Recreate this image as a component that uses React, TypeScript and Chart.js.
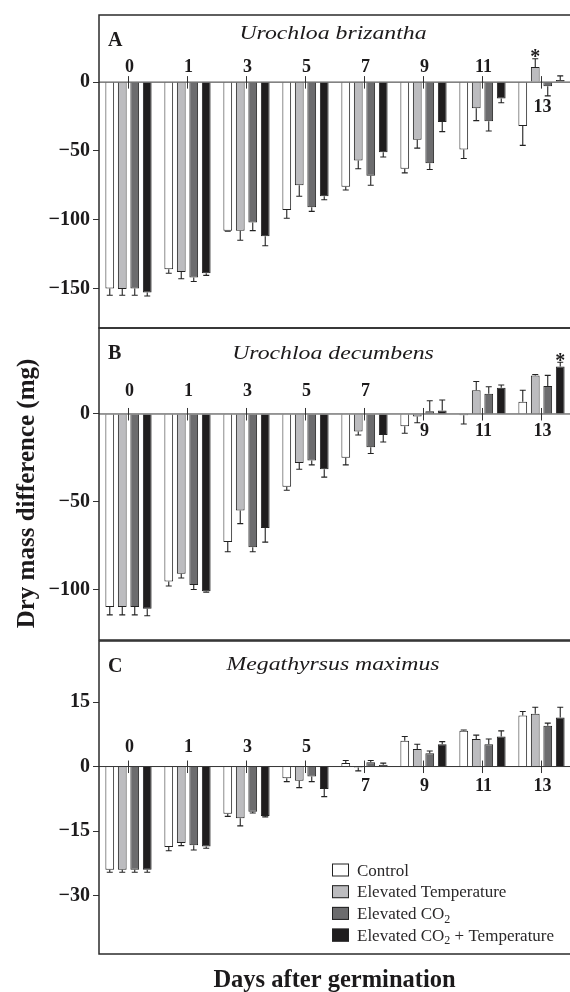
import React, { useEffect, useRef } from 'react';
import { Chart, registerables } from 'chart.js';

Chart.register(...registerables);

// ---------- data ----------
const days = ['0', '1', '3', '5', '7', '9', '11', '13'];
const seriesNames = ['Control', 'Elevated Temperature', 'Elevated CO₂', 'Elevated CO₂ + Temperature'];

// Panel A – Urochloa brizantha
const aControl = [-150, -136, -108, -93, -76, -63, -49, -32];
const aControlErr = [5, 3, 0.5, 6, 2.5, 3, 6.5, 14];
const aTemp = [-150.5, -138, -108, -75, -57, -42, -19, 11];
const aTempErr = [4.5, 5, 7, 8, 6, 6, 9, 6];
const aCO2 = [-150, -142, -102, -91, -68, -59, -28.5, -3];
const aCO2Err = [5, 3, 6, 3, 7, 4.5, 7, 7];
const aBoth = [-153, -139, -112, -83, -51, -29, -12, 1.5];
const aBothErr = [2.5, 1.5, 7, 2.5, 3.5, 7, 3, 3];
const aTicks = [-150, -100, -50, 0];
const aStars = [[7, 1]];

// Panel B – Urochloa decumbens
const bControl = [-110, -95.5, -73, -41.5, -25, -7, -0.7, 7];
const bControlErr = [4.5, 2.5, 5.5, 2, 4, 4, 5, 6.5];
const bTemp = [-110, -91, -55, -28, -10, -1.5, 13.5, 22];
const bTempErr = [4.5, 2.5, 7.5, 3.5, 2, 3.5, 5, 0.5];
const bCO2 = [-110, -97.5, -76, -26.5, -19, 1.5, 11.5, 16];
const bCO2Err = [4.5, 2.5, 2.5, 2.5, 3.5, 6, 4, 6];
const bBoth = [-111, -101, -65, -31.5, -12, 2, 15, 27];
const bBothErr = [4, 0.5, 8, 4.5, 4, 6, 1.5, 2.5];
const bTicks = [-100, -50, 0];
const bStars = [[7, 3]];

// Panel C – Megathyrsus maximus
const cControl = [-24, -18.7, -11, -2.7, 0.8, 6, 8.3, 11.9];
const cControlErr = [0.6, 0.9, 0.6, 0.8, 0.6, 1, 0.2, 0.9];
const cTemp = [-24, -17.8, -12, -3.3, -0.2, 4.1, 6.4, 12.3];
const cTempErr = [0.6, 0.6, 1.8, 1.6, 0.8, 1.1, 0.9, 1.5];
const cCO2 = [-24, -18.3, -10.5, -2.3, 1, 3.1, 5.2, 9.5];
const cCO2Err = [0.6, 1.1, 0.3, 1.2, 0.4, 0.5, 1.2, 0.6];
const cBoth = [-24, -18.6, -11.5, -5.2, 0.4, 5.2, 7, 11.4];
const cBothErr = [0.6, 0.4, 0.2, 1.8, 0.4, 0.6, 1.3, 2.4];
const cTicks = [-30, -15, 0, 15];
const cStars: number[][] = [];

// ---------- style ----------
const SERIF = '"Liberation Serif", "Times New Roman", serif';
const INK = '#1c1a1b';
const fills = ['#ffffff', '#bcbcbf', '#6c6c6e', '#1f1d1e'];

type PanelCfg = {
  letter: string;
  title: string;
  values: number[][];
  errors: number[][];
  ticks: number[];
  stars: number[][];
  min: number;
  max: number;
  canvasTop: number;
  canvasH: number;
  padTop: number;
  padBottom: number;
  titleDy: number;
  labelAbove: number;
  labelBelow: number;
  legend?: boolean;
  yTitle?: boolean;
  xTitle?: boolean;
};

const panels: PanelCfg[] = [
  {
    letter: 'A', title: 'Urochloa brizantha',
    values: [aControl, aTemp, aCO2, aBoth], errors: [aControlErr, aTempErr, aCO2Err, aBothErr],
    ticks: aTicks, stars: aStars, min: -178.8, max: 48.8,
    canvasTop: 0, canvasH: 345, padTop: 14, padBottom: 17, titleDy: 24,
    labelAbove: -14.6, labelBelow: 25.4,
  },
  {
    letter: 'B', title: 'Urochloa decumbens',
    values: [bControl, bTemp, bCO2, bBoth], errors: [bControlErr, bTempErr, bCO2Err, bBothErr],
    ticks: bTicks, stars: bStars, min: -128.8, max: 49,
    canvasTop: 300, canvasH: 355, padTop: 28, padBottom: 14, titleDy: 31,
    labelAbove: -22.6, labelBelow: 17.4, yTitle: true,
  },
  {
    letter: 'C', title: 'Megathyrsus maximus',
    values: [cControl, cTemp, cCO2, cBoth], errors: [cControlErr, cTempErr, cCO2Err, cBothErr],
    ticks: cTicks, stars: cStars, min: -43.6, max: 29.2,
    canvasTop: 620, canvasH: 372, padTop: 21, padBottom: 38, titleDy: 29,
    labelAbove: -19.4, labelBelow: 20, legend: true, xTitle: true,
  },
];

function textScaled(ctx: CanvasRenderingContext2D, text: string, x: number, y: number, font: string, align: CanvasTextAlign, sx = 1) {
  ctx.save();
  ctx.translate(x, y);
  ctx.scale(sx, 1);
  ctx.font = font;
  ctx.textAlign = align;
  ctx.textBaseline = 'alphabetic';
  ctx.fillStyle = INK;
  ctx.fillText(text, 0, 0);
  ctx.restore();
}

function drawRich(ctx: CanvasRenderingContext2D, text: string, x: number, y: number, size: number) {
  const parts = text.split('₂');
  let cx = x;
  ctx.textAlign = 'left';
  ctx.textBaseline = 'alphabetic';
  ctx.fillStyle = '#2a2829';
  parts.forEach((p, i) => {
    ctx.font = `${size}px ${SERIF}`;
    ctx.fillText(p, cx, y);
    cx += ctx.measureText(p).width;
    if (i < parts.length - 1) {
      ctx.font = `${Math.round(size * 0.68)}px ${SERIF}`;
      ctx.fillText('2', cx, y + size * 0.22);
      cx += ctx.measureText('2').width;
    }
  });
}

function makePlugin(cfg: PanelCfg) {
  return {
    id: 'panelDeco' + cfg.letter,
    afterDatasetsDraw(chart: any) {
      const ctx: CanvasRenderingContext2D = chart.ctx;
      const { left, right, top, bottom } = chart.chartArea;
      const ys = chart.scales.y;
      const y0 = ys.getPixelForValue(0);
      ctx.save();

      // error bars
      ctx.strokeStyle = '#222';
      ctx.lineWidth = 1.1;
      chart.data.datasets.forEach((ds: any, di: number) => {
        const meta = chart.getDatasetMeta(di);
        meta.data.forEach((bar: any, i: number) => {
          const v = ds.data[i];
          const e = cfg.errors[di][i];
          const end = ys.getPixelForValue(v + (v >= 0 ? e : -e));
          ctx.beginPath();
          ctx.moveTo(bar.x, bar.y);
          ctx.lineTo(bar.x, end);
          ctx.moveTo(bar.x - 3, end);
          ctx.lineTo(bar.x + 3, end);
          ctx.stroke();
        });
      });

      // zero line
      ctx.strokeStyle = '#333';
      ctx.lineWidth = 1;
      ctx.beginPath();
      ctx.moveTo(left, y0);
      ctx.lineTo(right, y0);
      ctx.stroke();

      // day ticks & labels
      const xs = chart.scales.x;
      days.forEach((d, i) => {
        const cx = xs.getPixelForValue(i);
        ctx.beginPath();
        ctx.moveTo(cx, y0 - 6);
        ctx.lineTo(cx, y0 + 6.5);
        ctx.stroke();
        const allNeg = cfg.values.every((s) => s[i] < 0);
        ctx.save();
        ctx.font = `bold 18px ${SERIF}`;
        ctx.textAlign = 'center';
        ctx.textBaseline = 'middle';
        ctx.fillStyle = INK;
        ctx.fillText(d, cx + 1, y0 + (allNeg ? cfg.labelAbove : cfg.labelBelow));
        ctx.restore();
      });

      // significance stars
      cfg.stars.forEach(([ci, si]) => {
        const bar = chart.getDatasetMeta(si).data[ci];
        const v = cfg.values[si][ci];
        const e = cfg.errors[si][ci];
        const end = ys.getPixelForValue(v + e);
        textScaled(ctx, '*', bar.x, end + 4.5, `bold 20px ${SERIF}`, 'center');
      });

      // frame
      ctx.strokeStyle = '#2b2b2b';
      ctx.lineWidth = 1.5;
      ctx.strokeRect(left, top, right - left, bottom - top);

      // panel letter & title
      textScaled(ctx, cfg.letter, left + 9, top + 31, `bold 20px ${SERIF}`, 'left');
      textScaled(ctx, cfg.title, 333, top + cfg.titleDy, `italic 19px ${SERIF}`, 'center', 1.25);

      // legend
      if (cfg.legend) {
        seriesNames.forEach((name, i) => {
          const cy = top + 229 + i * 21.7;
          ctx.fillStyle = fills[i];
          ctx.fillRect(left + 233, cy - 6.5, 17, 13);
          ctx.strokeStyle = '#222';
          ctx.lineWidth = 1;
          ctx.strokeRect(left + 233.5, cy - 6, 16, 12);
          drawRich(ctx, name, left + 258, cy + 5.5, 17);
        });
      }

      // shared axis titles
      if (cfg.yTitle) {
        ctx.save();
        ctx.translate(33.5, (top + bottom) / 2 + 9.5);
        ctx.rotate(-Math.PI / 2);
        ctx.font = `bold 25px ${SERIF}`;
        ctx.textAlign = 'center';
        ctx.textBaseline = 'alphabetic';
        ctx.fillStyle = INK;
        ctx.fillText('Dry mass difference (mg)', 0, 0);
        ctx.restore();
      }
      if (cfg.xTitle) {
        textScaled(ctx, 'Days after germination', 334.5, bottom + 33, `bold 24.5px ${SERIF}`, 'center');
      }
      ctx.restore();
    },
  };
}

function fmt(v: number) {
  return v < 0 ? '−' + Math.abs(v) : String(v);
}

export default function App() {
  const refs = [useRef<HTMLCanvasElement>(null), useRef<HTMLCanvasElement>(null), useRef<HTMLCanvasElement>(null)];

  useEffect(() => {
    const charts = panels.map((cfg, pi) => {
      const canvas = refs[pi].current!;
      return new Chart(canvas, {
        type: 'bar',
        data: {
          labels: days,
          datasets: cfg.values.map((vals, si) => ({
            label: seriesNames[si],
            data: vals,
            backgroundColor: fills[si],
            borderColor: '#222',
            borderWidth: 1,
            categoryPercentage: 0.847,
            barPercentage: 0.7,
          })),
        },
        options: {
          responsive: false,
          animation: false,
          devicePixelRatio: 1,
          events: [],
          layout: { padding: { top: cfg.padTop, bottom: cfg.padBottom, left: 0, right: 1 } },
          plugins: { legend: { display: false }, tooltip: { enabled: false } },
          scales: {
            x: { display: false, offset: true },
            y: {
              min: cfg.min,
              max: cfg.max,
              afterFit: (s: any) => { s.width = 99; },
              afterBuildTicks: (s: any) => { s.ticks = cfg.ticks.map((v) => ({ value: v })); },
              ticks: {
                callback: (v: any) => fmt(Number(v)),
                font: { family: SERIF, size: 20, weight: 'bold' },
                color: INK,
                padding: 3,
              },
              grid: { drawOnChartArea: false, drawTicks: true, tickLength: 6, color: '#333', lineWidth: 1 },
              border: { display: false },
            },
          },
        } as any,
        plugins: [makePlugin(cfg)],
      });
    });
    return () => charts.forEach((c) => c.destroy());
  }, []);

  return (
    <div style={{ position: 'absolute', left: 0, top: 0, width: 570, height: 992, overflow: 'hidden', background: '#fff' }}>
      {panels.map((cfg, i) => (
        <canvas
          key={cfg.letter}
          ref={refs[i]}
          width={572}
          height={cfg.canvasH}
          style={{ position: 'absolute', left: 0, top: cfg.canvasTop, width: 572, height: cfg.canvasH }}
        />
      ))}
    </div>
  );
}
